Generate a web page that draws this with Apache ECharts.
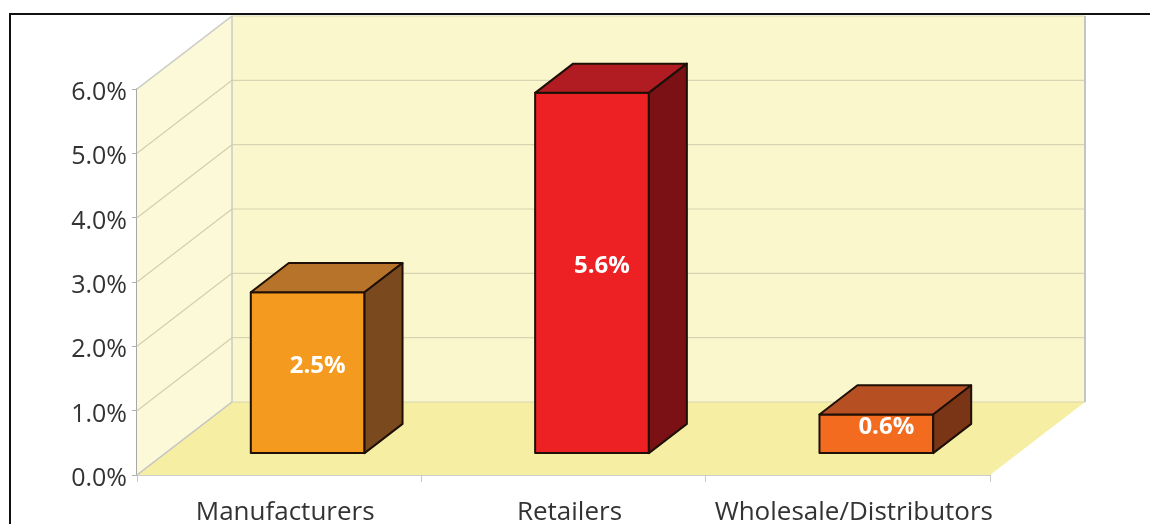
<!DOCTYPE html>
<html>
<head>
<meta charset="utf-8">
<script src="https://cdn.jsdelivr.net/npm/echarts@6/dist/echarts.min.js"></script>
<style>html,body{margin:0;padding:0;background:#fff}#c{width:1150px;height:524px}</style>
</head>
<body>
<div id="c"></div>
<script>
const categories = ['Manufacturers', 'Retailers', 'Wholesale/Distributors'];
const values = [2.5, 5.6, 0.6];
const yTicks = [0, 1, 2, 3, 4, 5, 6];
const frontColors = ['#F39A1F', '#ED2024', '#F26B1F'];
const topColors = ['#B8732A', '#B01C22', '#B64F22'];
const sideColors = ['#7A4A1E', '#7B1015', '#7A3516'];

const DX = 95, DY = -73;          // depth of 3D box
const BAR_D0 = 0.3, BAR_D1 = 0.7; // bar depth range
const BAR_W = 0.4;                // bar width as share of band

const chart = echarts.init(document.getElementById('c'));

function wallsRender(params, api) {
  const cs = params.coordSys;
  const x0 = cs.x, x1 = cs.x + cs.width;
  const yb = api.coord([0, yTicks[0]])[1];
  const yt = api.coord([0, yTicks[yTicks.length - 1]])[1];
  const children = [];
  children.push({type: 'polygon', shape: {points: [[x0, yt], [x0 + DX, yt + DY], [x0 + DX, yb + DY], [x0, yb]]}, style: {fill: '#FBF9D7', stroke: null}});
  children.push({type: 'polygon', shape: {points: [[x0 + DX, yt + DY], [x1 + DX, yt + DY], [x1 + DX, yb + DY], [x0 + DX, yb + DY]]}, style: {fill: '#FBF7CD', stroke: null}});
  children.push({type: 'polygon', shape: {points: [[x0, yb], [x1, yb], [x1 + DX, yb + DY], [x0 + DX, yb + DY]]}, style: {fill: '#F6EFA3', stroke: null}});
  yTicks.forEach(t => {
    const y = api.coord([0, t])[1];
    children.push({type: 'line', shape: {x1: x0 + DX, y1: y + DY, x2: x1 + DX, y2: y + DY}, style: {stroke: '#D8D4B2', lineWidth: 1.2}});
    children.push({type: 'line', shape: {x1: x0, y1: y, x2: x0 + DX, y2: y + DY}, style: {stroke: '#D4D0AE', lineWidth: 1.2}});
  });
  children.push({type: 'line', shape: {x1: x0 + DX, y1: yt + DY, x2: x0 + DX, y2: yb + DY}, style: {stroke: '#CACACA', lineWidth: 1.5}});
  children.push({type: 'line', shape: {x1: x1 + DX, y1: yt + DY, x2: x1 + DX, y2: yb + DY}, style: {stroke: '#C4C4C4', lineWidth: 2}});
  children.push({type: 'line', shape: {x1: x0, y1: yt, x2: x0 + DX, y2: yt + DY}, style: {stroke: '#CFCFCF', lineWidth: 1.5}});
  children.push({type: 'line', shape: {x1: x0, y1: yb, x2: x0 + DX, y2: yb + DY}, style: {stroke: '#C8C8C8', lineWidth: 1.5}});
  return {type: 'group', children: children};
}

function barRender(params, api) {
  const i = api.value(0), v = api.value(1);
  const base = api.coord([i, 0]);
  const top = api.coord([i, v]);
  const bw = api.size([1, 0])[0] * BAR_W;
  const xL = base[0] - bw / 2 + BAR_D0 * DX, xR = xL + bw;
  const yB = base[1] + BAR_D0 * DY, yT = top[1] + BAR_D0 * DY;
  const ddx = (BAR_D1 - BAR_D0) * DX, ddy = (BAR_D1 - BAR_D0) * DY;
  const edge = {stroke: '#1E1006', lineWidth: 2, lineJoin: 'round'};
  return {type: 'group', children: [
    {type: 'polygon', shape: {points: [[xL, yT], [xR, yT], [xR, yB], [xL, yB]]}, style: Object.assign({fill: frontColors[i]}, edge)},
    {type: 'polygon', shape: {points: [[xL, yT], [xR, yT], [xR + ddx, yT + ddy], [xL + ddx, yT + ddy]]}, style: Object.assign({fill: topColors[i]}, edge)},
    {type: 'polygon', shape: {points: [[xR, yT], [xR + ddx, yT + ddy], [xR + ddx, yB + ddy], [xR, yB]]}, style: Object.assign({fill: sideColors[i]}, edge)},
    {type: 'text', style: {text: v.toFixed(1) + '%', x: (xL + xR) / 2 + 10, y: (yT + yB) / 2 - 7, fill: '#FFFFFF', font: 'bold 24px "Open Sans", sans-serif', align: 'center', verticalAlign: 'middle'}}
  ]};
}

chart.setOption({
  animation: false,
  backgroundColor: '#FFFFFF',
  graphic: [{type: 'rect', shape: {x: 10, y: 14, width: 1300, height: 700}, style: {fill: null, stroke: '#111', lineWidth: 2}, z: 100}],
  grid: {left: 137, right: 160, top: 89, bottom: 49, containLabel: false, outerBoundsMode: 'none'},
  xAxis: {
    type: 'category', data: categories,
    axisLine: {lineStyle: {color: '#BDBDBD', width: 1.5}},
    axisTick: {show: true, length: 7, lineStyle: {color: '#C8C8C8'}},
    axisLabel: {interval: 0, fontSize: 26, color: '#333333', margin: 25, fontFamily: 'Open Sans', padding: [0, 0, 0, 12]}
  },
  yAxis: {
    type: 'value', min: 0, max: 6, interval: 1,
    splitLine: {show: false},
    axisLine: {show: true, lineStyle: {color: '#A8A8A8', width: 2}},
    axisTick: {show: true, length: 5, lineStyle: {color: '#B0B0B0'}},
    axisLabel: {fontSize: 25, color: '#333333', margin: 10, verticalAlign: 'top', lineHeight: 8, fontFamily: 'Open Sans', formatter: v => v.toFixed(1) + '%'}
  },
  series: [
    {type: 'custom', renderItem: wallsRender, data: [[0, 0]], encode: {x: 0, y: 1}, z: 1, silent: true},
    {type: 'custom', renderItem: barRender, data: values.map((v, i) => [i, v]), encode: {x: 0, y: 1}, z: 2}
  ]
});
</script>
</body>
</html>
